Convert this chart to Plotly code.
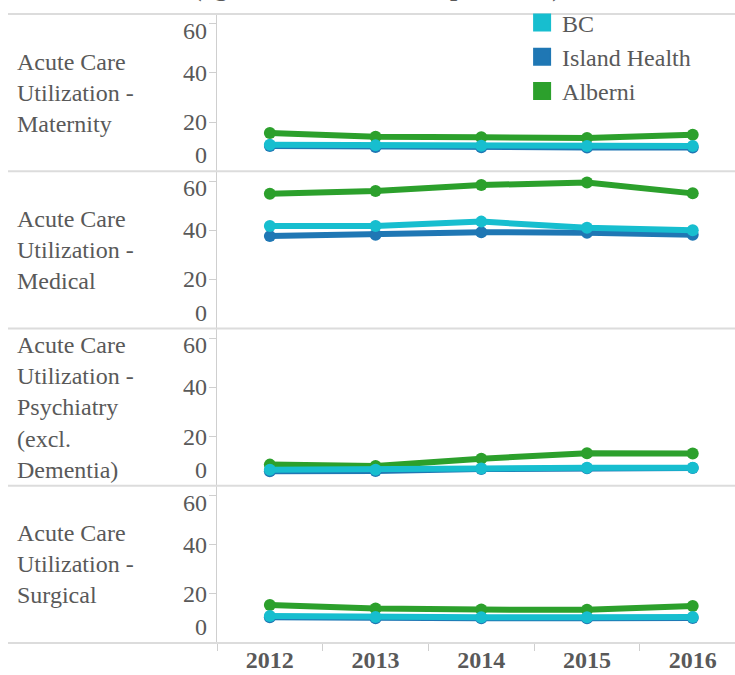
import plotly.graph_objects as go
from plotly.subplots import make_subplots

# years on the x axis
years = ["2012", "2013", "2014", "2015", "2016"]

# row facets (label shown at left of each panel)
row_labels = [
    "Acute Care<br>Utilization -<br>Maternity",
    "Acute Care<br>Utilization -<br>Medical",
    "Acute Care<br>Utilization -<br>Psychiatry<br>(excl.<br>Dementia)",
    "Acute Care<br>Utilization -<br>Surgical",
]

# values, one list per region per panel
maternity_bc = [10.8, 10.6, 10.4, 10.3, 10.3]
maternity_island = [10.3, 9.9, 9.8, 9.7, 9.7]
maternity_alberni = [15.6, 14.0, 13.8, 13.5, 14.9]

medical_bc = [41.7, 41.7, 43.5, 41.0, 40.0]
medical_island = [37.6, 38.2, 39.2, 39.0, 38.2]
medical_alberni = [54.8, 56.0, 58.4, 59.4, 55.0]

psych_bc = [6.5, 6.5, 7.0, 7.3, 7.3]
psych_island = [5.9, 6.0, 6.8, 7.1, 7.2]
psych_alberni = [8.6, 8.0, 11.0, 13.2, 13.1]

surgical_bc = [11.0, 10.6, 10.5, 10.5, 10.6]
surgical_island = [10.5, 10.1, 10.1, 10.1, 10.2]
surgical_alberni = [15.5, 14.0, 13.6, 13.5, 15.1]

regions = ["BC", "Island Health", "Alberni"]
colors = {"BC": "#17becf", "Island Health": "#1f77b4", "Alberni": "#2ca02c"}

panels = [
    {"BC": maternity_bc, "Island Health": maternity_island, "Alberni": maternity_alberni},
    {"BC": medical_bc, "Island Health": medical_island, "Alberni": medical_alberni},
    {"BC": psych_bc, "Island Health": psych_island, "Alberni": psych_alberni},
    {"BC": surgical_bc, "Island Health": surgical_island, "Alberni": surgical_alberni},
]

y_ticks = [0, 20, 40, 60]

FONT = "Liberation Serif, DejaVu Serif, serif"
TEXT_COLOR = "#595959"
AXIS_COLOR = "#cfcfcf"

fig = make_subplots(rows=4, cols=1, shared_xaxes=True, vertical_spacing=0)

# draw order: Alberni underneath, BC on top
for i, panel in enumerate(panels, start=1):
    for region in ["Alberni", "Island Health", "BC"]:
        fig.add_trace(go.Scatter(
            x=years, y=panel[region], mode="lines+markers", name=region,
            line=dict(color=colors[region], width=6),
            marker=dict(color=colors[region], size=12),
            showlegend=False, hoverinfo="skip"), row=i, col=1)

# legend entries as square swatches
for region in regions:
    fig.add_trace(go.Scatter(
        x=[None], y=[None], mode="markers", name=region,
        marker=dict(symbol="square", size=16, color=colors[region],
                    line=dict(color=colors[region], width=2))), row=1, col=1)

annotations = []
shapes = []
for i in range(1, 5):
    ax = "" if i == 1 else str(i)
    fig.update_yaxes(range=[0, 64], tickvals=y_ticks, showticklabels=False,
                     ticks="outside", ticklen=7, tickcolor=AXIS_COLOR,
                     showline=True, linecolor=AXIS_COLOR, linewidth=1,
                     showgrid=False, zeroline=False, row=i, col=1)
    fig.update_xaxes(type="category", range=[-0.5, 4.4], showgrid=False,
                     zeroline=False, showline=False, ticks="", row=i, col=1)

    # y tick labels (first and last pushed inside the panel)
    for v in y_ticks:
        shift = {0: 16, 60: -7}.get(v, 0)
        annotations.append(dict(
            xref=f"x{ax} domain", yref=f"y{ax}", x=0, y=v, xanchor="right",
            yanchor="middle", xshift=-8, yshift=shift, showarrow=False,
            text=str(v), font=dict(family=FONT, size=24, color=TEXT_COLOR)))

    # row label
    annotations.append(dict(
        xref=f"x{ax} domain", yref=f"y{ax} domain", x=0, y=0.5,
        xanchor="left", yanchor="middle", xshift=-202, showarrow=False,
        align="left", text=row_labels[i - 1],
        font=dict(family=FONT, size=24, color=TEXT_COLOR)))

    # separator line at top of the panel
    shapes.append(dict(type="line", xref="paper", yref=f"y{ax} domain",
                       x0=-0.4035, x1=1, y0=1, y1=1,
                       line=dict(color="#dcdcdc", width=2)))

shapes.append(dict(type="line", xref="paper", yref="y4 domain",
                   x0=-0.4035, x1=1, y0=0, y1=0,
                   line=dict(color="#dcdcdc", width=2)))

# title, mostly cut off at the top edge
annotations.append(dict(
    xref="paper", yref="paper", x=0.309, y=1, xanchor="center",
    yanchor="bottom", yshift=10, showarrow=False,
    text="(age-standardized rate per 1,000)",
    font=dict(family=FONT, size=26, color=TEXT_COLOR, weight="bold")))

fig.update_xaxes(ticks="outside", tickson="boundaries", ticklen=7,
                 tickcolor=AXIS_COLOR,
                 tickfont=dict(family=FONT, size=24, color=TEXT_COLOR, weight="bold"),
                 row=4, col=1)

fig.update_layout(
    width=735, height=675,
    margin=dict(l=217, r=0, t=14, b=32, autoexpand=False),
    plot_bgcolor="white", paper_bgcolor="white",
    font=dict(family=FONT, size=24, color=TEXT_COLOR),
    annotations=annotations, shapes=shapes,
    legend=dict(x=0.589, y=1.0215, xanchor="left", yanchor="top",
                bgcolor="rgba(0,0,0,0)", tracegroupgap=0,
                font=dict(family=FONT, size=24, color=TEXT_COLOR)),
)

fig.write_html("out.html", config={"displayModeBar": False},
               post_script="document.body.style.margin='0';")
